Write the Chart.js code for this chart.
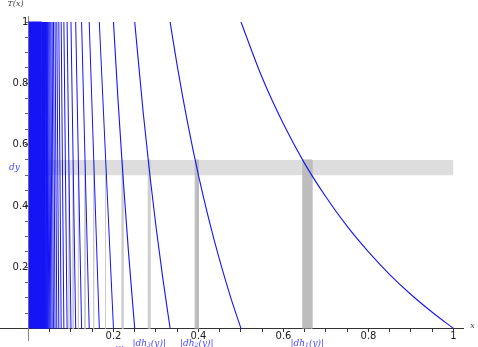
<!DOCTYPE html>
<html>
<head>
<meta charset="utf-8">
<script src="https://cdn.jsdelivr.net/npm/chart.js@4"></script>
<style>
  body { margin: 0; background: #fff; }
  canvas { display: block; }
</style>
</head>
<body>
<canvas id="chart" width="478" height="347"></canvas>
<script>
// ---- data ----
// branch boundaries of T(x): T = 1 at the left end, T = 0 at the right end
const branchBounds = [1, 0.5, 0.3333, 0.25, 0.2, 0.1667, 0.1429, 0.125, 0.1111, 0.1,
  0.0909, 0.0833, 0.0769, 0.0714, 0.0667, 0.0625, 0.0588, 0.0556, 0.0526, 0.05,
  0.0476, 0.0455, 0.0435, 0.0417, 0.04, 0.0385, 0.037, 0.0357, 0.0345, 0.0333, 0.0323];

// the wider branches are visibly curved, so they get more points
const branch1 = [[0.5, 1], [0.55, 0.818], [0.6, 0.667], [0.65, 0.538], [0.7, 0.429], [0.75, 0.333],
  [0.8, 0.25], [0.85, 0.176], [0.9, 0.111], [0.95, 0.053], [1, 0]];
const branch2 = [[0.3333, 1], [0.35, 0.857], [0.375, 0.667], [0.4, 0.5], [0.425, 0.353],
  [0.45, 0.222], [0.475, 0.105], [0.5, 0]];
const branch3 = [[0.25, 1], [0.27, 0.704], [0.2857, 0.5], [0.3, 0.333], [0.3158, 0.167], [0.3333, 0]];
const branch4 = [[0.2, 1], [0.2105, 0.75], [0.2222, 0.5], [0.2353, 0.25], [0.25, 0]];

// dense block near x = 0
const denseEdge = [[0, 1], [0.0313, 1], [0.0323, 0]];

// horizontal strip dy = [0.5, 0.55]
const dyLow = 0.5, dyHigh = 0.55;

// preimage intervals |dh_n(y)|
const dhLeft  = [0.6452, 0.3922, 0.2817, 0.2198, 0.1802, 0.1527, 0.1325, 0.117, 0.1047, 0.0948];
const dhRight = [0.6667, 0.4,    0.2857, 0.2222, 0.1818, 0.1538, 0.1333, 0.1176, 0.1053, 0.0952];
const dhLabels = ['1', '2', '3'];
const dhLabelX = [0.656, 0.396, 0.284];

const xTickLabels = [0.2, 0.4, 0.6, 0.8, 1];
const yTickLabels = [0.2, 0.4, 0.6, 0.8, 1];

// ---- build datasets ----
const blue = 'rgb(20,20,245)';
const pts = arr => arr.map(p => ({ x: p[0], y: p[1] }));

const datasets = [];

// curves (on top)
[branch1, branch2, branch3, branch4].forEach(b => {
  datasets.push({ data: pts(b), borderColor: blue, borderWidth: 1.1, pointRadius: 0,
    cubicInterpolationMode: 'monotone', fill: false, order: 0 });
});
for (let n = 5; n < branchBounds.length; n++) {
  datasets.push({ data: [{ x: branchBounds[n], y: 1 }, { x: branchBounds[n - 1], y: 0 }],
    borderColor: blue, borderWidth: 1, pointRadius: 0, fill: false, order: 0 });
}
datasets.push({ data: pts(denseEdge), borderColor: blue, borderWidth: 1, pointRadius: 0,
  backgroundColor: blue, fill: 'origin', order: 0 });

// preimage bars
dhLeft.forEach((x0, i) => {
  const x1 = dhRight[i];
  const c = i < 2 ? '#bdbdbd' : '#cccccc';
  datasets.push({
    data: [{ x: x0, y: 0 }, { x: x0, y: dyHigh }, { x: x1, y: dyHigh }, { x: x1, y: 0 }],
    borderColor: c, backgroundColor: c, borderWidth: 1, pointRadius: 0,
    fill: 'origin', order: 1
  });
});

// strip
datasets.push({ data: [{ x: 0, y: dyHigh }, { x: 1, y: dyHigh }], borderWidth: 0,
  borderColor: 'rgba(0,0,0,0)', backgroundColor: '#dddddd', pointRadius: 0,
  fill: { value: dyLow }, order: 2 });

// ---- labels drawn on top ----
const mathFont = 'italic 9px "DejaVu Serif"';
const labelBlue = 'rgb(70,70,255)';

const labelPlugin = {
  id: 'labels',
  afterDraw(chart) {
    const ctx = chart.ctx;
    const xs = chart.scales.x, ys = chart.scales.y;
    ctx.save();
    ctx.textBaseline = 'middle';

    // axis names
    ctx.fillStyle = '#444';
    ctx.font = 'italic 8px "DejaVu Serif"';
    ctx.textAlign = 'center';
    ctx.fillText('T(x)', xs.getPixelForValue(0) - 13, 4);
    ctx.fillText('x', xs.getPixelForValue(1) + 19, ys.getPixelForValue(0) - 3);

    // dy
    ctx.fillStyle = labelBlue;
    ctx.font = mathFont;
    ctx.fillText('dy', xs.getPixelForValue(0) - 14, ys.getPixelForValue((dyLow + dyHigh) / 2));

    // |dh_n(y)|
    const yPix = ys.getPixelForValue(0) + 15;
    dhLabels.forEach((s, i) => {
      const a = '|dh', b = '(y)|';
      ctx.font = mathFont;
      const wa = ctx.measureText(a).width, wb = ctx.measureText(b).width;
      ctx.font = 'italic 6px "DejaVu Serif"';
      const ws = ctx.measureText(s).width;
      let x = xs.getPixelForValue(dhLabelX[i]) - (wa + ws + wb) / 2;
      ctx.textAlign = 'left';
      ctx.font = mathFont;
      ctx.fillText(a, x, yPix);
      x += wa;
      ctx.font = 'italic 6px "DejaVu Serif"';
      ctx.fillText(s, x, yPix + 2);
      x += ws;
      ctx.font = mathFont;
      ctx.fillText(b, x, yPix);
    });
    ctx.textAlign = 'center';
    ctx.font = '9px "DejaVu Sans"';
    ctx.fillText('...', xs.getPixelForValue(0.215), yPix + 1);
    ctx.restore();
  }
};

const stepTicks = scale => {
  scale.ticks = [];
  for (let k = 1; k <= 20; k++) scale.ticks.push({ value: k * 0.05 });
};
const tickLabel = (labels) => function (v) {
  const hit = labels.find(l => Math.abs(l - v) < 1e-6);
  if (hit === undefined) return '';
  return hit === 1 ? '1' : hit.toFixed(1);
};

new Chart(document.getElementById('chart'), {
  type: 'line',
  data: { datasets },
  plugins: [labelPlugin],
  options: {
    responsive: false,
    animation: false,
    layout: { padding: { left: 0, top: 16, right: 15, bottom: 0 } },
    plugins: { legend: { display: false }, tooltip: { enabled: false } },
    scales: {
      x: {
        type: 'linear', min: -0.067, max: 1.0224,
        position: { y: 0 },
        afterBuildTicks: stepTicks,
        border: { color: '#333', width: 1 },
        grid: { drawOnChartArea: false, drawTicks: true, tickLength: 3, color: '#333' },
        ticks: { autoSkip: false, maxRotation: 0, padding: -1, color: '#222',
          font: { family: 'DejaVu Sans', size: 10 }, callback: tickLabel(xTickLabels) }
      },
      y: {
        type: 'linear', min: -0.0375, max: 1.0196,
        position: { x: 0 },
        afterBuildTicks: stepTicks,
        border: { color: '#888', width: 1 },
        grid: { drawOnChartArea: false, drawTicks: true, tickLength: 3, color: '#666' },
        ticks: { autoSkip: false, padding: 1, color: '#222',
          font: { family: 'DejaVu Sans', size: 10 }, callback: tickLabel(yTickLabels) }
      }
    }
  }
});
</script>
</body>
</html>
